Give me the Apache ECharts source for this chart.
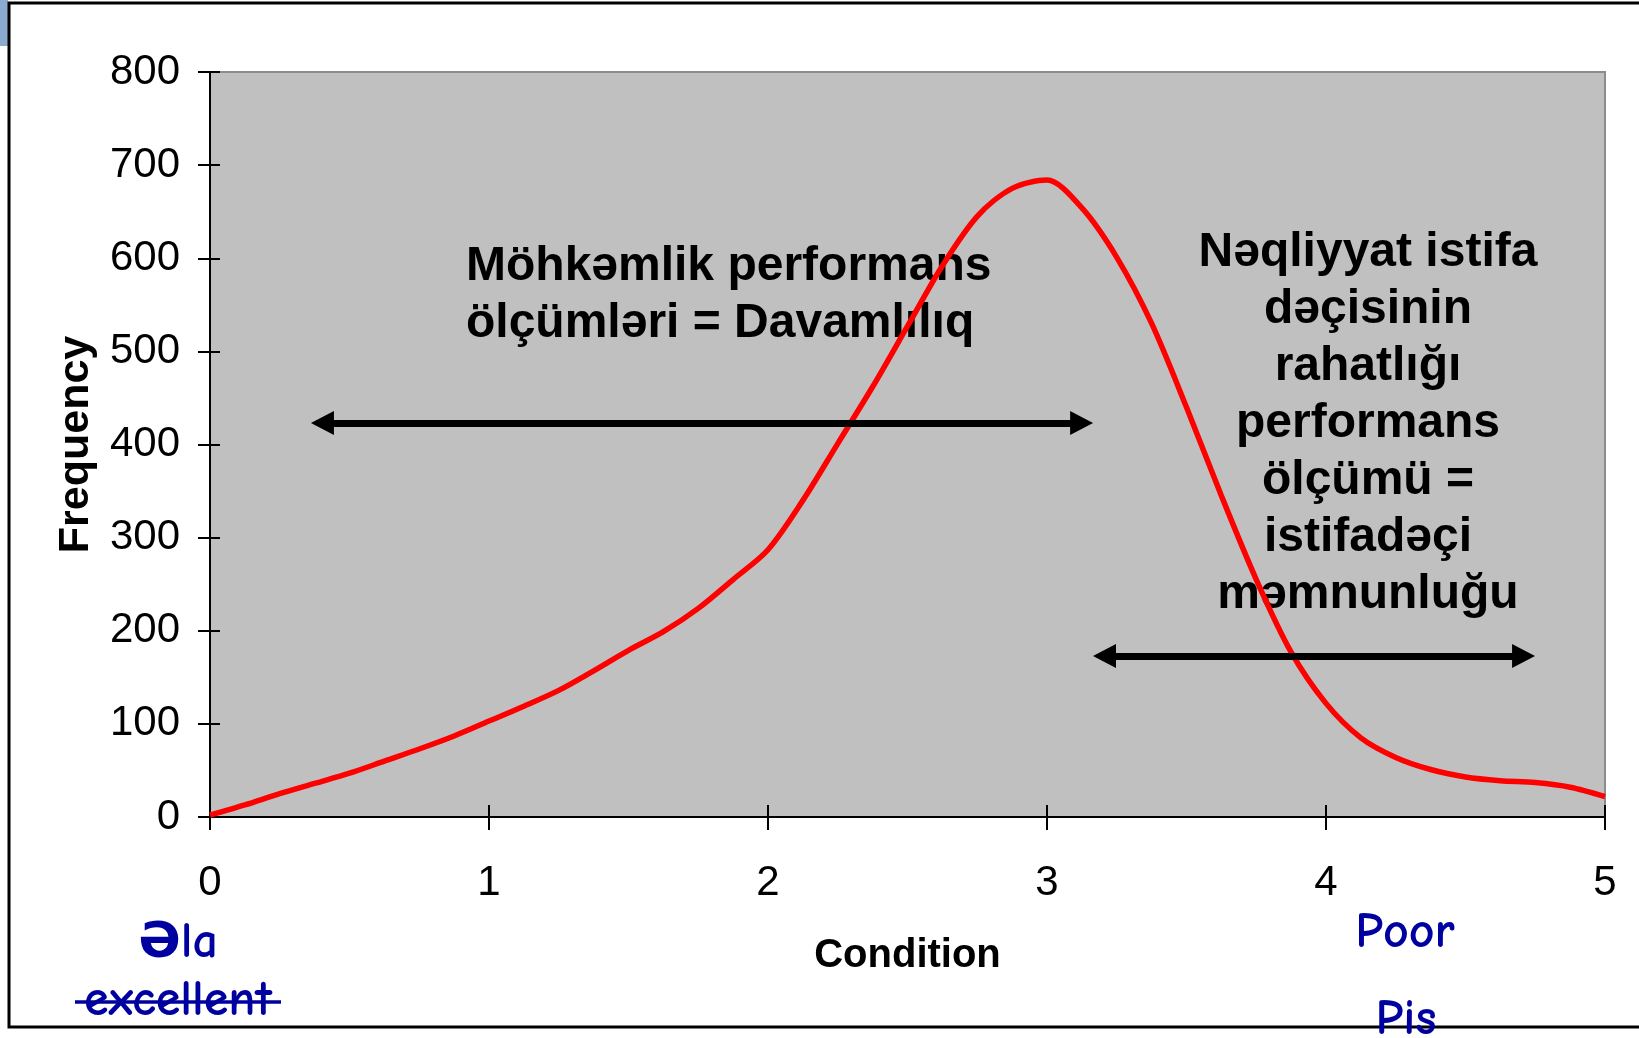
<!DOCTYPE html>
<html>
<head>
<meta charset="utf-8">
<script src="https://cdn.jsdelivr.net/npm/echarts@6/dist/echarts.min.js"></script>
<style>
  html, body { margin: 0; padding: 0; background: #fff; }
  #chart { width: 1639px; height: 1038px; }
</style>
</head>
<body>
<div id="chart"></div>
<script>
// condition steps (x) and frequency
var conditionX = [0, 0.125, 0.25, 0.375, 0.5, 0.625, 0.75, 0.875,
                  1, 1.125, 1.25, 1.375, 1.5, 1.625, 1.75, 1.875,
                  2, 2.125, 2.25, 2.375, 2.5, 2.625, 2.75, 2.875,
                  3, 3.125, 3.25, 3.375, 3.5, 3.625, 3.75, 3.875,
                  4, 4.125, 4.25, 4.375, 4.5, 4.625, 4.75, 4.875, 5];
var frequency = [2, 13, 25, 36, 47, 60, 73, 87,
                 103, 119, 136, 157, 179, 199, 224, 255,
                 287, 340, 401, 462, 527, 592, 645, 675,
                 684, 654, 601, 530, 440, 345, 255, 177,
                 122, 85, 64, 51, 43, 39, 37, 32, 22];

var xMin = 0, xMax = 5, xStep = 1;
var yMin = 0, yMax = 800, yStep = 100;

var leftNote = ['Möhkəmlik performans', 'ölçümləri = Davamlılıq'];
var rightNote = ['Nəqliyyat istifa', 'dəçisinin', 'rahatlığı', 'performans',
                 'ölçümü =', 'istifadəçi', 'məmnunluğu'];

var narrow = "'Liberation Sans Narrow', 'Arial Narrow', 'Liberation Sans', Arial, sans-serif";
var sans = "'Liberation Sans', Arial, sans-serif";
var hand = "'Comic Sans MS', 'Comic Neue', 'DejaVu Sans', sans-serif";
var blue = '#0000a0';

document.addEventListener('DOMContentLoaded', function () {
    var chart = echarts.init(document.getElementById('chart'));

    var points = conditionX.map(function (x, i) { return [x, frequency[i]]; });

    var option = {
        animation: false,
        grid: {
            left: 210, right: 34, top: 72, bottom: 221,
            show: true,
            backgroundColor: '#c0c0c0',
            borderColor: '#8c8c8c',
            borderWidth: 2
        },
        xAxis: [
            {
                type: 'value', min: xMin, max: xMax, interval: xStep,
                axisLine: { show: true, onZero: false, lineStyle: { color: '#000', width: 2 } },
                axisTick: { show: true, length: 13, lineStyle: { color: '#000', width: 2 } },
                axisLabel: { margin: 45, fontSize: 42, fontFamily: narrow, color: '#000' },
                splitLine: { show: false },
                name: 'Condition',
                nameLocation: 'middle',
                nameGap: 119,
                nameTextStyle: { fontSize: 40, fontWeight: 'bold', fontFamily: narrow, color: '#000' }
            },
            {
                // inner half of the crossing ticks
                type: 'value', min: xMin, max: xMax, interval: xStep, position: 'bottom',
                axisLine: { show: false },
                axisTick: { show: true, inside: true, length: 12, lineStyle: { color: '#000', width: 2 } },
                axisLabel: { show: false },
                splitLine: { show: false }
            }
        ],
        yAxis: [
            {
                type: 'value', min: yMin, max: yMax, interval: yStep,
                axisLine: { show: true, lineStyle: { color: '#000', width: 2 } },
                axisTick: { show: true, length: 12, lineStyle: { color: '#000', width: 2 } },
                axisLabel: { margin: 30, fontSize: 42, fontFamily: narrow, color: '#000', padding: [10, 0, 0, 0] },
                splitLine: { show: false },
                name: 'Frequency',
                nameLocation: 'middle',
                nameGap: 112,
                nameTextStyle: { fontSize: 43, fontWeight: 'bold', fontFamily: sans, color: '#000' }
            },
            {
                type: 'value', min: yMin, max: yMax, interval: yStep, position: 'left',
                axisLine: { show: false },
                axisTick: { show: true, inside: true, length: 10, lineStyle: { color: '#000', width: 2 } },
                axisLabel: { show: false },
                splitLine: { show: false }
            }
        ],
        series: [
            {
                type: 'line',
                xAxisIndex: 0,
                yAxisIndex: 0,
                data: points,
                smooth: 0.3,
                showSymbol: false,
                lineStyle: { color: '#ff0000', width: 5.5 },
                z: 3,
                markLine: {
                    silent: true,
                    symbol: ['triangle', 'triangle'],
                    symbolSize: [24, 23],
                    lineStyle: { color: '#000', width: 7, type: 'solid' },
                    label: { show: false },
                    data: [
                        [{ coord: [0.403, 423] }, { coord: [3.124, 423] }],
                        [{ coord: [3.206, 173] }, { coord: [4.708, 173] }]
                    ]
                }
            }
        ],
        graphic: [
            { type: 'rect', z: 0, shape: { x: 0, y: 0, width: 8, height: 46 }, style: { fill: '#8aaad0' } },
            { type: 'rect', z: 0, shape: { x: 9, y: 3, width: 1660, height: 1024 },
              style: { fill: null, stroke: '#000', lineWidth: 3 } },
            { type: 'text', z: 1, x: 466, y: 238,
              style: { text: leftNote.join('\n'), font: 'bold 48px ' + sans, fill: '#000',
                       textAlign: 'left', textVerticalAlign: 'top', lineHeight: 57 } },
            { type: 'text', z: 1, x: 1368, y: 224,
              style: { text: rightNote.join('\n'), font: 'bold 48px ' + sans, fill: '#000',
                       textAlign: 'center', textVerticalAlign: 'top', lineHeight: 57 } },
            { type: 'text', z: 1, x: 178, y: 943,
              style: { text: 'Əla', font: 'bold 50px ' + hand, fill: blue, textAlign: 'center', textVerticalAlign: 'middle' } },
            { type: 'text', z: 1, x: 178, y: 1001,
              style: { text: 'excellent', font: 'bold 50px ' + hand, fill: blue, textAlign: 'center', textVerticalAlign: 'middle' } },
            { type: 'line', z: 1, shape: { x1: 75, y1: 1002, x2: 281, y2: 1002 },
              style: { stroke: blue, lineWidth: 3.5 } },
            { type: 'text', z: 1, x: 1405, y: 933,
              style: { text: 'Poor', font: 'bold 50px ' + hand, fill: blue, textAlign: 'center', textVerticalAlign: 'middle' } },
            { type: 'text', z: 1, x: 1406, y: 1020,
              style: { text: 'Pis', font: 'bold 50px ' + hand, fill: blue, textAlign: 'center', textVerticalAlign: 'middle' } }
        ]
    };
    chart.setOption(option);

    window.addEventListener('resize', function () { chart.resize(); });
});
</script>
</body>
</html>
